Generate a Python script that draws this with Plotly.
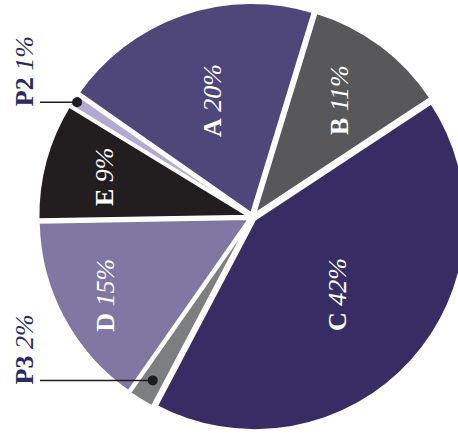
import math
import plotly.graph_objects as go

# Slice data (clockwise, starting with A)
labels = ["A", "B", "C", "P3", "D", "E", "P2"]
shares = [20, 11, 42, 2, 15, 9, 1]
colors = ["#4f4679", "#58585a", "#372d64", "#7d7e80", "#8078a2", "#221e1f", "#b2aad2"]

# Which slices carry their label inside, and which get a leader line
inside_labels = ["A", "B", "C", "D", "E"]
callout_labels = ["P2", "P3"]

# Geometry / styling
W, H = 470, 439
CX, CY = 252.5, 217.0      # pie centre in pixels
R = 211.5                  # pie radius in pixels
PULL = 0.015
START = 305.0              # first slice starts here, degrees clockwise from 12 o'clock
FONT = "Liberation Serif"
TEXT_SIZE = 26
NAVY = "#2e2962"
INK = "#1f1c1d"

label_radius = {"A": 0.567, "B": 0.676, "C": 0.532, "D": 0.772, "E": 0.711}
dot_radius = {"P2": 0.976, "P3": 0.89}

half = R * (1 + PULL)
fig = go.Figure(
    go.Pie(
        labels=labels,
        values=shares,
        sort=False,
        direction="clockwise",
        rotation=START,
        pull=PULL,
        marker=dict(colors=colors, line=dict(color="white", width=3)),
        textinfo="none",
        hoverinfo="label+percent",
        domain=dict(
            x=[(CX - half) / W, (CX + half) / W],
            y=[1 - (CY + half) / H, 1 - (CY - half) / H],
        ),
    )
)

# Mid angle of every slice, following the same clockwise order
total = sum(shares)
mid_angle = {}
acc = START
for name, v in zip(labels, shares):
    span = v / total * 360.0
    mid_angle[name] = acc + span / 2
    acc += span
value_of = dict(zip(labels, shares))


def to_paper(frac, name):
    a = math.radians(mid_angle[name])
    d = frac * R + PULL * R
    px = CX + d * math.sin(a)
    py = CY - d * math.cos(a)
    return px, py


def label_text(name):
    return f"<b>{name}</b> <i>{value_of[name]}%</i>"


annotations = []
for name in inside_labels:
    px, py = to_paper(label_radius[name], name)
    annotations.append(dict(
        x=px / W, y=1 - py / H, xref="paper", yref="paper",
        text=label_text(name), showarrow=False, textangle=-90,
        xanchor="center", yanchor="middle",
        font=dict(family=FONT, size=TEXT_SIZE, color="white"),
    ))

shapes = []
for name in callout_labels:
    px, py = to_paper(dot_radius[name], name)
    x0 = 40
    shapes.append(dict(
        type="line", xref="paper", yref="paper",
        x0=x0 / W, x1=px / W, y0=1 - py / H, y1=1 - py / H,
        line=dict(color=INK, width=1.5),
    ))
    rd = 5
    shapes.append(dict(
        type="circle", xref="paper", yref="paper",
        x0=(px - rd) / W, x1=(px + rd) / W,
        y0=1 - (py + rd) / H, y1=1 - (py - rd) / H,
        fillcolor=INK, line=dict(color=INK, width=0),
    ))
    annotations.append(dict(
        x=24 / W, y=1 - (py - 31) / H, xref="paper", yref="paper",
        text=label_text(name), showarrow=False, textangle=-90,
        xanchor="center", yanchor="middle",
        font=dict(family=FONT, size=TEXT_SIZE, color=NAVY),
    ))

fig.update_layout(
    width=W, height=H,
    margin=dict(l=0, r=0, t=0, b=0),
    paper_bgcolor="white",
    showlegend=False,
    annotations=annotations,
    shapes=shapes,
)

fig.write_html(
    "out.html",
    post_script="document.documentElement.style.overflow='hidden';document.body.style.overflow='hidden';",
)
